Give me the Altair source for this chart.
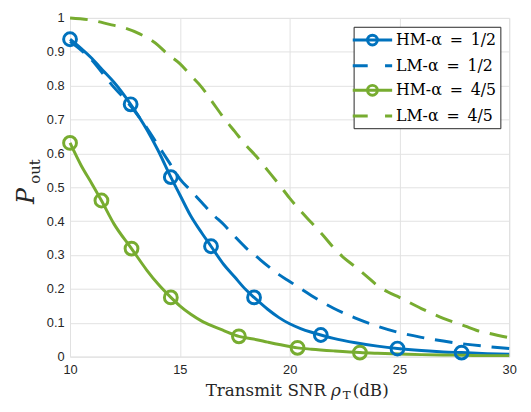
import altair as alt
import pandas as pd

# ---------------- data ----------------
S_HM12 = "HM-α\u2002=\u20021/2"
S_LM12 = "LM-α\u2002=\u20021/2"
S_HM45 = "HM-α\u2002=\u20024/5"
S_LM45 = "LM-α\u2002=\u20024/5"
series_names = [S_HM12, S_LM12, S_HM45, S_LM45]
series_colors = ["#0072BD", "#0072BD", "#77AC30", "#77AC30"]

hm12_x = [10, 10.5, 11, 11.5, 12, 12.76, 13.5, 14, 14.59, 15, 15.5, 16, 16.42, 17, 17.5, 18, 18.38,
          19, 19.5, 20, 20.5, 21, 21.42, 22, 23, 24, 24.91, 26, 27, 27.83, 29, 30]
hm12_y = [0.937, 0.91, 0.88, 0.845, 0.81, 0.745, 0.67, 0.61, 0.53, 0.478, 0.415, 0.365, 0.326, 0.272,
          0.235, 0.198, 0.175, 0.14, 0.116, 0.097, 0.083, 0.072, 0.064, 0.054, 0.041, 0.031, 0.024,
          0.018, 0.014, 0.012, 0.009, 0.007]

lm12_x = [10, 10.5, 11, 11.5, 12, 12.5, 13, 13.5, 14, 14.5, 15, 15.5, 16, 16.5, 17, 17.5, 18, 18.5,
          19, 19.5, 20, 21, 22, 23, 24, 25, 26, 27, 28, 29, 30]
lm12_y = [0.93, 0.905, 0.875, 0.835, 0.795, 0.76, 0.72, 0.675, 0.625, 0.575, 0.525, 0.49, 0.455, 0.42,
          0.39, 0.355, 0.322, 0.295, 0.268, 0.243, 0.222, 0.18, 0.143, 0.114, 0.09, 0.071, 0.057,
          0.046, 0.037, 0.03, 0.024]

hm45_x = [10, 10.5, 11, 11.43, 12, 12.8, 13.5, 14, 14.59, 15, 15.5, 16, 16.5, 17, 17.69, 18.5, 19,
          20, 20.36, 21, 22, 23.2, 24, 25, 26, 27, 28, 29, 30]
hm45_y = [0.631, 0.565, 0.51, 0.461, 0.392, 0.319, 0.255, 0.215, 0.175, 0.15, 0.125, 0.105, 0.09,
          0.077, 0.06, 0.05, 0.043, 0.03, 0.026, 0.022, 0.017, 0.012, 0.01, 0.008, 0.006, 0.005,
          0.004, 0.003, 0.003]

lm45_x = [10, 11, 11.8, 12.5, 13.17, 14, 14.39, 15, 15.5, 16, 16.5, 17, 17.5, 18, 18.5, 19, 19.5,
          20, 20.5, 21, 21.5, 22, 22.5, 23, 23.5, 24, 24.5, 25, 26, 27, 28, 28.5, 29, 30]
lm45_y = [1.0, 0.993, 0.981, 0.97, 0.953, 0.92, 0.896, 0.865, 0.83, 0.795, 0.75, 0.705, 0.665, 0.625,
          0.59, 0.55, 0.51, 0.468, 0.43, 0.395, 0.36, 0.322, 0.29, 0.265, 0.238, 0.21, 0.19, 0.175,
          0.142, 0.113, 0.09, 0.078, 0.07, 0.056]

mk12_x = [10, 12.76, 14.59, 16.42, 18.38, 21.42, 24.91, 27.83]
mk12_y = [0.937, 0.745, 0.53, 0.326, 0.175, 0.064, 0.024, 0.012]
mk45_x = [10, 11.43, 12.8, 14.59, 17.69, 20.36, 23.2]
mk45_y = [0.631, 0.461, 0.319, 0.175, 0.06, 0.026, 0.012]

x_ticks = [10, 15, 20, 25, 30]
y_ticks = [0, 0.1, 0.2, 0.3, 0.4, 0.5, 0.6, 0.7, 0.8, 0.9, 1]

# legend symbols (SVG paths; 1 unit = 8 px at symbolSize 256)
PATH_HM = "M-1.8,0L3.2,0M1.325,0A0.625,0.625,0,1,1,0.075,0A0.625,0.625,0,1,1,1.325,0"
PATH_LM = "M-1.8,0L0.1,0M2.3,0L3.2,0"
series_shapes = [PATH_HM, PATH_LM, PATH_HM, PATH_LM]

# ---------------- tables ----------------
def frame(xs, ys, name):
    return pd.DataFrame({"x": xs, "y": ys, "series": name})

solid_df = pd.concat([frame(hm12_x, hm12_y, S_HM12), frame(hm45_x, hm45_y, S_HM45)])
dash_df = pd.concat([frame(lm12_x, lm12_y, S_LM12), frame(lm45_x, lm45_y, S_LM45)])
mk_df = pd.concat([frame(mk12_x, mk12_y, S_HM12), frame(mk45_x, mk45_y, S_HM45)])
leg_df = pd.DataFrame({"x": [hm12_x[0], lm12_x[0], hm45_x[0], lm45_x[0]],
                       "y": [hm12_y[0], lm12_y[0], hm45_y[0], lm45_y[0]],
                       "series": series_names})

W, H = 446, 344

xs = alt.Scale(domain=[10, 30], nice=False, zero=False)
ys = alt.Scale(domain=[0, 1], nice=False)
color_scale = alt.Scale(domain=series_names, range=series_colors)
shape_scale = alt.Scale(domain=series_names, range=series_shapes)

x_axis = alt.Axis(values=x_ticks, title=None, grid=True, ticks=False, domain=False,
                  labelFont="Liberation Sans", labelFontSize=13, labelColor="#262626",
                  labelPadding=7, gridColor="#e2e2e2", labelFlush=False, labelOverlap=False)
y_axis = alt.Axis(values=y_ticks, tickCount=11, title=None, grid=True, ticks=False, domain=False,
                  labelFont="Liberation Sans", labelFontSize=13, labelColor="#262626",
                  labelPadding=6, gridColor="#e2e2e2", labelFlush=False, labelOverlap=False,
                  labelExpr="datum.value == 0 ? '0' : datum.value == 1 ? '1' : format(datum.value, '.1f')")

X = alt.X("x:Q", scale=xs, axis=x_axis)
Y = alt.Y("y:Q", scale=ys, axis=y_axis)

solid = alt.Chart(solid_df).mark_line(strokeWidth=3, interpolate="monotone").encode(
    x=X, y=Y,
    color=alt.Color("series:N", scale=color_scale, legend=None),
    detail="series:N",
)

dashed = alt.Chart(dash_df).mark_line(strokeWidth=3, interpolate="monotone", strokeDash=[18, 11]).encode(
    x=X, y=Y,
    color=alt.Color("series:N", scale=color_scale, legend=None),
    detail="series:N",
)

markers = alt.Chart(mk_df).mark_point(shape="circle", filled=False, size=170, strokeWidth=3, opacity=1).encode(
    x=X, y=Y,
    color=alt.Color("series:N", scale=color_scale, legend=None),
)

leg = alt.Legend(
    title=None, orient="top-right", offset=9,
    symbolSize=256, symbolStrokeWidth=3, symbolOpacity=1,
    labelFont="DejaVu Serif", labelFontSize=16, labelColor="black", labelOffset=20,
    fillColor="white", strokeColor="#262626", padding=4, rowPadding=5)

legend_layer = alt.Chart(leg_df).mark_point(filled=False, strokeWidth=3, opacity=0).encode(
    x=X, y=Y,
    color=alt.Color("series:N", scale=color_scale, legend=leg),
    shape=alt.Shape("series:N", scale=shape_scale, legend=leg),
)

one = alt.Data(values=[{"k": 1}])
def label(text, x, y, size, angle=0, align="left", baseline="alphabetic", style="normal"):
    return alt.Chart(one).mark_text(text=text, font="DejaVu Serif", fontSize=size, angle=angle,
                                    align=align, baseline=baseline, fontStyle=style, color="#262626").encode(
        x=alt.value(x), y=alt.value(y))

titles = [
    label("Transmit SNR", 260, 384, 17, align="right"),
    label("ρ", 265, 384, 17, style="italic"),
    label("T", 277, 387, 12),
    label("(dB)", 287, 384, 17),
    label("P", -44, 181, 24, angle=270, align="center", baseline="middle", style="italic"),
    label("out", -35, 156, 15, angle=270, align="center", baseline="middle"),
]

chart = alt.layer(legend_layer, solid, dashed, markers, *titles).properties(
    width=W, height=H,
    autosize=alt.AutoSizeParams(type="none"),
    padding={"left": 63, "top": 7, "right": 14, "bottom": 45},
).configure_view(stroke="#4d4d4d", strokeWidth=1).configure(background="white")

chart.save("out.html", embed_options={"renderer": "svg", "actions": False})
